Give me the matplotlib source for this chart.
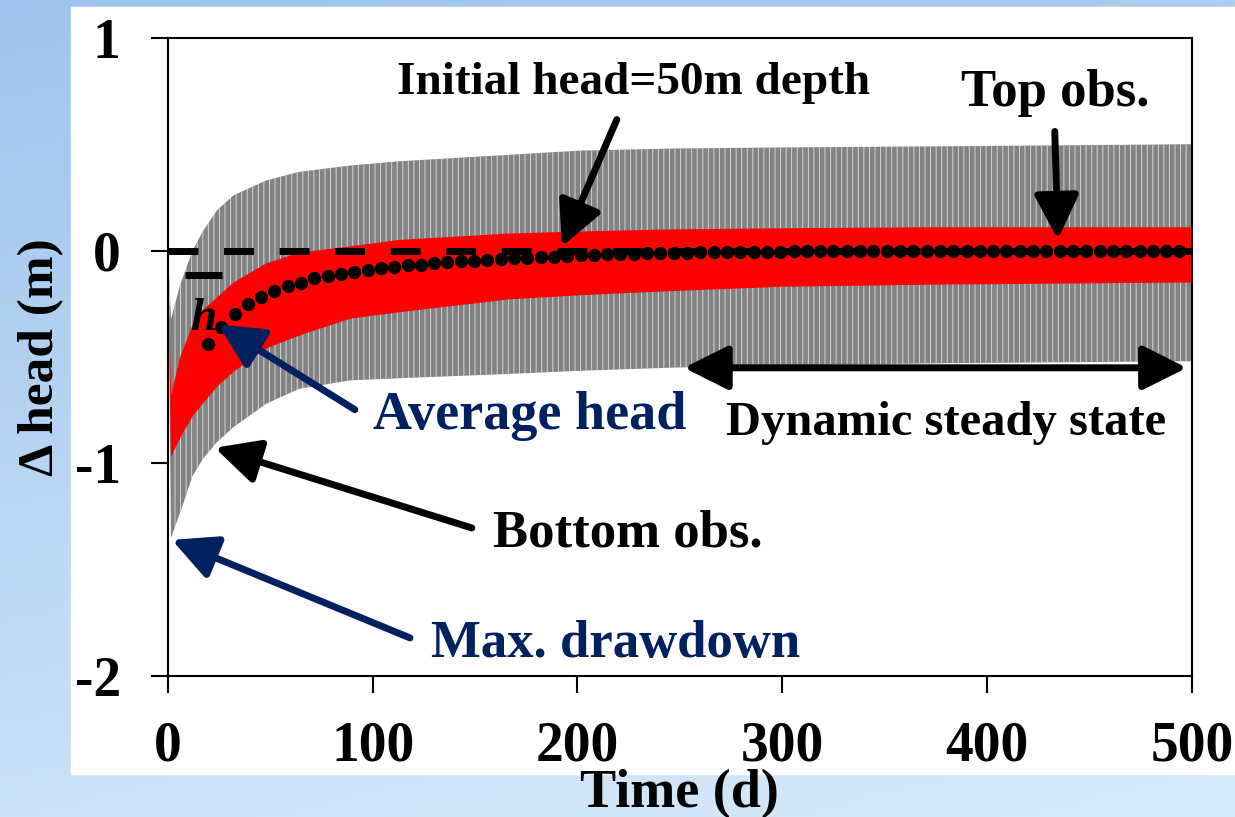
import numpy as np
import matplotlib
matplotlib.use("Agg")
import matplotlib.pyplot as plt
from matplotlib.patches import Rectangle

plt.rcParams["font.family"] = ["Liberation Serif", "DejaVu Serif"]
plt.rcParams["font.weight"] = "bold"
plt.rcParams["axes.labelweight"] = "bold"
plt.rcParams["axes.unicode_minus"] = False
plt.rcParams["hatch.linewidth"] = 0.7

# envelope sampling times (d)
t_env = [0, 1.5, 6, 12, 17, 24, 32, 48, 64, 89, 113, 166, 201, 247, 300, 375, 500]
# bottom observation: upper / lower envelope of the oscillation (m)
bottom_hi = [0.0, -0.32, -0.16, 0.0, 0.09, 0.19, 0.26, 0.33, 0.37, 0.40, 0.42, 0.45, 0.47, 0.48, 0.485, 0.49, 0.50]
bottom_lo = [0.0, -1.35, -1.23, -1.06, -0.98, -0.90, -0.83, -0.72, -0.65, -0.61, -0.60, -0.58, -0.565, -0.55, -0.54, -0.53, -0.52]
# top observation envelope (m)
top_hi = [0.0, -0.68, -0.50, -0.35, -0.28, -0.22, -0.15, -0.06, -0.01, 0.02, 0.05, 0.08, 0.09, 0.10, 0.105, 0.11, 0.11]
top_lo = [0.0, -0.97, -0.88, -0.78, -0.72, -0.64, -0.57, -0.46, -0.40, -0.32, -0.29, -0.23, -0.21, -0.19, -0.17, -0.16, -0.15]

# average head
t_avg = [19.5, 26, 32.5, 39, 45.5, 52, 58.5, 65, 71.5, 78, 84.5, 91, 97.5, 104, 110.5,
         117, 123.5, 130, 136.5, 143, 149.5, 156, 162.5, 169, 175.5, 182, 188.5, 195,
         201.5, 208, 214.5, 221, 227.5, 234, 240.5, 247, 253.5, 260, 266.5, 273, 279.5,
         286, 292.5, 299, 305.5, 312, 318.5, 325, 331.5, 338, 344.5, 351, 357.5, 364,
         370.5, 377, 383.5, 390, 396.5, 403, 409.5, 416, 422.5, 429, 435.5, 442, 448.5,
         455, 461.5, 468, 474.5, 481, 487.5, 494]
h_avg = [-0.44, -0.36, -0.30, -0.25, -0.22, -0.19, -0.165, -0.15, -0.13, -0.12, -0.11,
         -0.10, -0.09, -0.08, -0.075, -0.07, -0.066, -0.06, -0.055, -0.05, -0.047, -0.043,
         -0.04, -0.037, -0.034, -0.031, -0.028, -0.025, -0.022, -0.02, -0.018, -0.016,
         -0.014, -0.012, -0.011, -0.01, -0.009, -0.008, -0.007, -0.006, -0.006, -0.005,
         -0.005, -0.005, -0.004, -0.004, -0.004, -0.004, -0.003, -0.003, -0.003, -0.003,
         -0.003, -0.003, -0.002, -0.002, -0.002, -0.002, -0.002, -0.002, -0.002, -0.002,
         -0.002, -0.002, -0.002, -0.002, -0.002, -0.002, -0.002, -0.002, -0.002, -0.002,
         -0.002, -0.002]
initial_head = 0.0

x_ticks = [0, 100, 200, 300, 400, 500]
y_ticks = [-2, -1, 0, 1]

navy = "#002060"

fig = plt.figure(figsize=(12.35, 8.17), dpi=100)

# slide background with white panel
bg = fig.add_axes([0, 0, 1, 1])
bg.set_axis_off()
yy = np.linspace(0, 1, 200)[:, None]
xx = np.linspace(0, 1, 200)[None, :]
c_top = np.array([0.62, 0.77, 0.93])
c_bot = np.array([0.85, 0.92, 0.98])
mix = np.clip(0.75 * yy + 0.25 * xx, 0, 1)[..., None]
grad = c_top * (1 - mix) + c_bot * mix
bg.imshow(grad, extent=[0, 1, 0, 1], aspect="auto", origin="upper")
bg.add_patch(Rectangle((0.0575, 0.0526), 0.9425, 0.9388, color="white"))
bg.set_xlim(0, 1)
bg.set_ylim(0, 1)

ax = fig.add_axes([0.136, 0.1726, 0.829, 0.781])
ax.set_facecolor("white")

ax.fill_between(t_env, bottom_lo, bottom_hi, facecolor="#828282", edgecolor="#d6d6d6",
                hatch="|||", linewidth=0, zorder=1)
ax.fill_between(t_env, top_lo, top_hi, facecolor="#ff0000", linewidth=0, zorder=2)
ax.axhline(initial_head, color="black", lw=5, dashes=(4.3, 3.7), zorder=3)
ax.plot(t_avg, h_avg, "o", color="black", ms=8.5, zorder=4)

# h-bar symbol
ax.hlines(-0.115, 8.3, 26.4, color="black", lw=5, zorder=5)
ax.text(17.1, -0.372, "h", style="italic", fontsize=34, ha="center", va="baseline", zorder=5)

ax.set_xlim(0, 500)
ax.set_ylim(-2, 1)
ax.set_xticks(x_ticks)
ax.set_yticks(y_ticks)
ax.tick_params(direction="out", length=12, width=1.5, labelsize=40, pad=20)
ax.tick_params(axis="y", pad=22)
for s in ax.spines.values():
    s.set_linewidth(1.5)

ax.set_xlabel("Time (d)", fontsize=39)
ax.set_ylabel("\u0394 head (m)", fontsize=37)
ax.xaxis.set_label_coords(0.5, -0.146)
ax.yaxis.set_label_coords(-0.101, 0.5)


def arrow(tail, tip, color, style="-|>"):
    ax.annotate("", xy=tip, xytext=tail,
                arrowprops=dict(arrowstyle=style + ",head_length=0.6,head_width=0.3",
                                lw=5, color=color, mutation_scale=45,
                                shrinkA=0, shrinkB=0), zorder=6)


ax.text(227.5, 0.734, "Initial head=50m depth", fontsize=34, ha="center", va="baseline")
arrow((219.2, 0.616), (192.4, 0.019), "black")

ax.text(433.1, 0.678, "Top obs.", fontsize=38, ha="center", va="baseline")
arrow((433.1, 0.56), (434.6, 0.052), "black")

ax.text(176.8, -0.838, "Average head", fontsize=39, ha="center", va="baseline", color=navy)
arrow((91.3, -0.748), (24.6, -0.348), navy)

ax.text(224.6, -1.393, "Bottom obs.", fontsize=38, ha="center", va="baseline")
arrow((148.4, -1.304), (22.9, -0.927), "black")

ax.text(218.75, -1.911, "Max. drawdown", fontsize=38, ha="center", va="baseline", color=navy)
arrow((118.2, -1.821), (1.95, -1.36), navy)

ax.text(379.9, -0.866, "Dynamic steady state", fontsize=35, ha="center", va="baseline")
arrow((252.0, -0.551), (497.6, -0.551), "black", style="<|-|>")

fig.savefig("out.png", dpi=100)
